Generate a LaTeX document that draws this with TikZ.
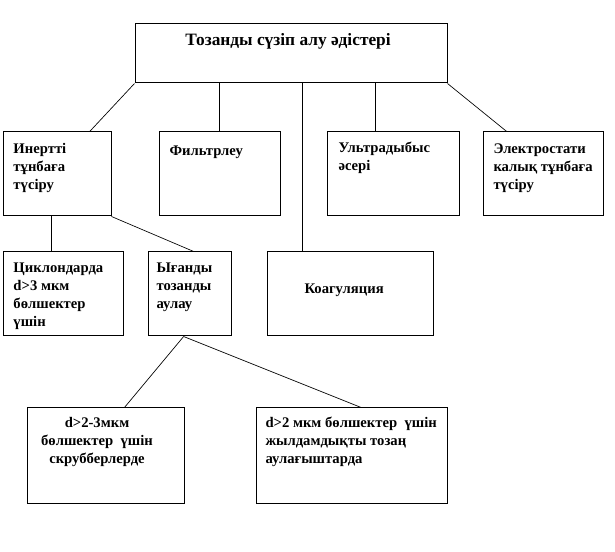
\documentclass[tikz,border=0pt]{standalone}
\usepackage{fontspec}
\setmainfont{Liberation Serif}
\usetikzlibrary{calc}

\tikzset{every picture/.style={line width=0.75pt}}
\tikzset{
  box/.style={draw, rectangle, inner sep=0pt},
  txt/.style={anchor=north west, inner sep=0pt, align=left, font=\fontsize{11}{13.5}\selectfont\bfseries},
  link/.style={line width=0.5pt}
}

\begin{document}
\begin{tikzpicture}[x=0.75pt,y=0.75pt,yscale=-1,xscale=1]
\useasboundingbox (0,0) rectangle (615,552);

%Shape: Rectangle [id:metod]
\node [box, minimum width=234pt, minimum height=44.25pt] (metod) at (291,53.5) {};
%Shape: Rectangle [id:inert]
\node [box, minimum width=81pt, minimum height=63pt] (inert) at (57,174) {};
%Shape: Rectangle [id:filtr]
\node [box, minimum width=90.75pt, minimum height=63pt] (filtr) at (219.5,174) {};
%Shape: Rectangle [id:ultra]
\node [box, minimum width=99pt, minimum height=63pt] (ultra) at (393,174) {};
%Shape: Rectangle [id:elektr]
\node [box, minimum width=90pt, minimum height=63pt] (elektr) at (543,174) {};
%Shape: Rectangle [id:cyclon]
\node [box, minimum width=90pt, minimum height=63pt] (cyclon) at (63,294) {};
%Shape: Rectangle [id:wet]
\node [box, minimum width=62.25pt, minimum height=63pt] (wet) at (189.5,294) {};
%Shape: Rectangle [id:koag]
\node [box, minimum width=124.5pt, minimum height=63pt] (koag) at (350,294) {};
%Shape: Rectangle [id:scrub]
\node [box, minimum width=117.75pt, minimum height=72pt] (scrub) at (105.5,456) {};
%Shape: Rectangle [id:fast]
\node [box, minimum width=143.25pt, minimum height=72pt] (fast) at (351.5,456) {};

%Straight Lines [metod -> row 2]
\draw [link] (metod.south west) -- ($(inert.north west)!0.8!(inert.north east)$) ;
\draw (filtr.north) -- (filtr.north |- metod.south) ;
\draw ($(koag.north west)!0.217!(koag.north east)$) coordinate (k1) -- (k1 |- metod.south) ;
\draw ($(ultra.north west)!0.37!(ultra.north east)$) coordinate (u1) -- (u1 |- metod.south) ;
\draw [link] (metod.south east) -- ($(elektr.north west)!0.2!(elektr.north east)$) ;
%Straight Lines [inert -> row 3]
\draw ($(inert.south west)!0.454!(inert.south east)$) coordinate (i1) -- (i1 |- cyclon.north) ;
\draw [link] (inert.south east) -- ($(wet.north west)!0.55!(wet.north east)$) ;
%Straight Lines [wet -> row 4]
\draw [link] ($(wet.south west)!0.43!(wet.south east)$) coordinate (w1) -- ($(scrub.north west)!0.62!(scrub.north east)$) ;
\draw [link] (w1) -- ($(fast.north west)!0.55!(fast.north east)$) ;

% Text Node
\node [anchor=base, inner sep=0pt, font=\fontsize{13}{15}\selectfont\bfseries] (metod-t) at (288,46) {Тозанды сүзіп алу әдістері};
% Text Node
\node [txt] (inert-t) at (13,143) {Инертті\\тұнбаға\\түсіру};
% Text Node
\node [txt] (filtr-t) at (169,145) {Фильтрлеу};
% Text Node
\node [txt] (ultra-t) at (338,142) {Ультрадыбыс\\әсері};
% Text Node
\node [txt] (elektr-t) at (493,143) {Электростати\\калық тұнбаға\\түсіру};
% Text Node
\node [txt] (cyclon-t) at (13,262) {Циклондарда\\d>3 мкм\\бөлшектер\\үшін};
% Text Node
\node [txt] (wet-t) at (156,262) {Ығанды\\тозанды\\аулау};
% Text Node
\node [txt, anchor=base west] (koag-t) at (304,294) {Коагуляция};
% Text Node
\node [txt, anchor=north, align=center] (scrub-t) at (97,417) {d>2-3мкм\\бөлшектер\ \ үшін\\скрубберлерде};
% Text Node
\node [txt] (fast-t) at (265,417) {d>2 мкм бөлшектер\ \ үшін\\жылдамдықты тозаң\\аулағыштарда};

\end{tikzpicture}
\end{document}
